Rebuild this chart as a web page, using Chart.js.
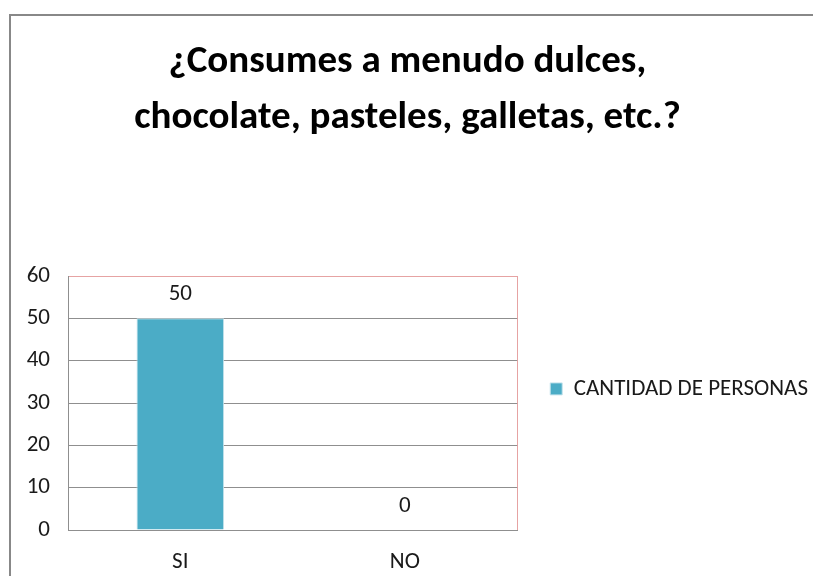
<!DOCTYPE html>
<html>
<head>
<meta charset="utf-8">
<script src="https://cdn.jsdelivr.net/npm/chart.js@4"></script>
<style>
  html, body { margin: 0; padding: 0; background: #fff; }
  #wrap { width: 813px; height: 576px; }
</style>
</head>
<body>
<div id="wrap"><canvas id="myChart" width="813" height="576"></canvas></div>
<script>
// chart data
var categories = ["SI", "NO"];
var seriesName = "CANTIDAD DE PERSONAS";
var seriesValues = [50, 0];
var yTicks = [0, 10, 20, 30, 40, 50, 60];

var bodyFont = "Carlito, Lato, sans-serif";
var barColor = "#4BACC6";
var gridColor = "#8f8f8f";
var pinkColor = "#e6a3a3";

// outer frame of the chart object (runs off the page right and bottom)
var framePlugin = {
    id: "frame",
    beforeDraw: function(chart) {
        var c = chart.ctx;
        c.save();
        c.fillStyle = "#fff";
        c.fillRect(0, 0, chart.width, chart.height);
        c.strokeStyle = "#888888";
        c.lineWidth = 2;
        c.strokeRect(10, 15, chart.width + 20, chart.height + 20);
        c.restore();
    }
};

// value labels above the bars
var valueLabels = {
    id: "valueLabels",
    afterDatasetsDraw: function(chart) {
        var c = chart.ctx;
        var meta = chart.getDatasetMeta(0);
        c.save();
        c.font = "23px " + bodyFont;
        c.fillStyle = "#1a1a1a";
        c.textAlign = "center";
        c.textBaseline = "middle";
        meta.data.forEach(function(bar, i) {
            c.fillText(String(seriesValues[i]), bar.x, bar.y - 24);
        });
        c.restore();
    }
};

var ctx = document.getElementById("myChart").getContext("2d");
var chart = new Chart(ctx, {
    type: "bar",
    data: {
        labels: categories,
        datasets: [{
            label: seriesName,
            data: seriesValues,
            backgroundColor: barColor,
            borderColor: "#c4e3ec",
            borderWidth: 1,
            categoryPercentage: 1,
            barPercentage: 0.39
        }]
    },
    options: {
        responsive: false,
        animation: false,
        layout: { padding: { left: -3, right: -5, top: 0, bottom: 0 } },
        plugins: {
            title: {
                display: true,
                text: ["¿Consumes a menudo dulces,", "chocolate, pasteles, galletas, etc.?"],
                color: "#000",
                font: { family: bodyFont, size: 39, weight: "bold", lineHeight: 56 / 39 },
                padding: { top: 34, bottom: 130 }
            },
            legend: {
                position: "right",
                fullSize: false,
                align: "start",
                maxWidth: 320,
                title: { display: true, text: " ", padding: { top: 34, bottom: 20 }, font: { size: 12 } },
                labels: {
                    boxWidth: 12,
                    boxHeight: 12,
                    padding: 33,
                    color: "#1a1a1a",
                    font: { family: bodyFont, size: 23 }
                }
            },
            tooltip: { enabled: false }
        },
        scales: {
            x: {
                afterFit: function(scale) { scale.height = 46; },
                grid: {
                    drawTicks: false,
                    color: function(c) { return c.type === "tick" ? "rgba(0,0,0,0)" : pinkColor; }
                },
                border: { color: gridColor },
                ticks: { padding: 18, color: "#1a1a1a", font: { family: bodyFont, size: 23 } }
            },
            y: {
                min: yTicks[0],
                max: yTicks[yTicks.length - 1],
                afterFit: function(scale) { scale.width = 71; },
                afterBuildTicks: function(scale) {
                    scale.ticks = yTicks.map(function(v) { return { value: v }; });
                },
                grid: {
                    drawTicks: false,
                    color: function(c) { return c.tick && c.tick.value === 60 ? pinkColor : gridColor; }
                },
                border: { color: gridColor },
                ticks: { padding: 18, color: "#1a1a1a", font: { family: bodyFont, size: 23 } }
            }
        }
    },
    plugins: [framePlugin, valueLabels]
});
</script>
</body>
</html>
